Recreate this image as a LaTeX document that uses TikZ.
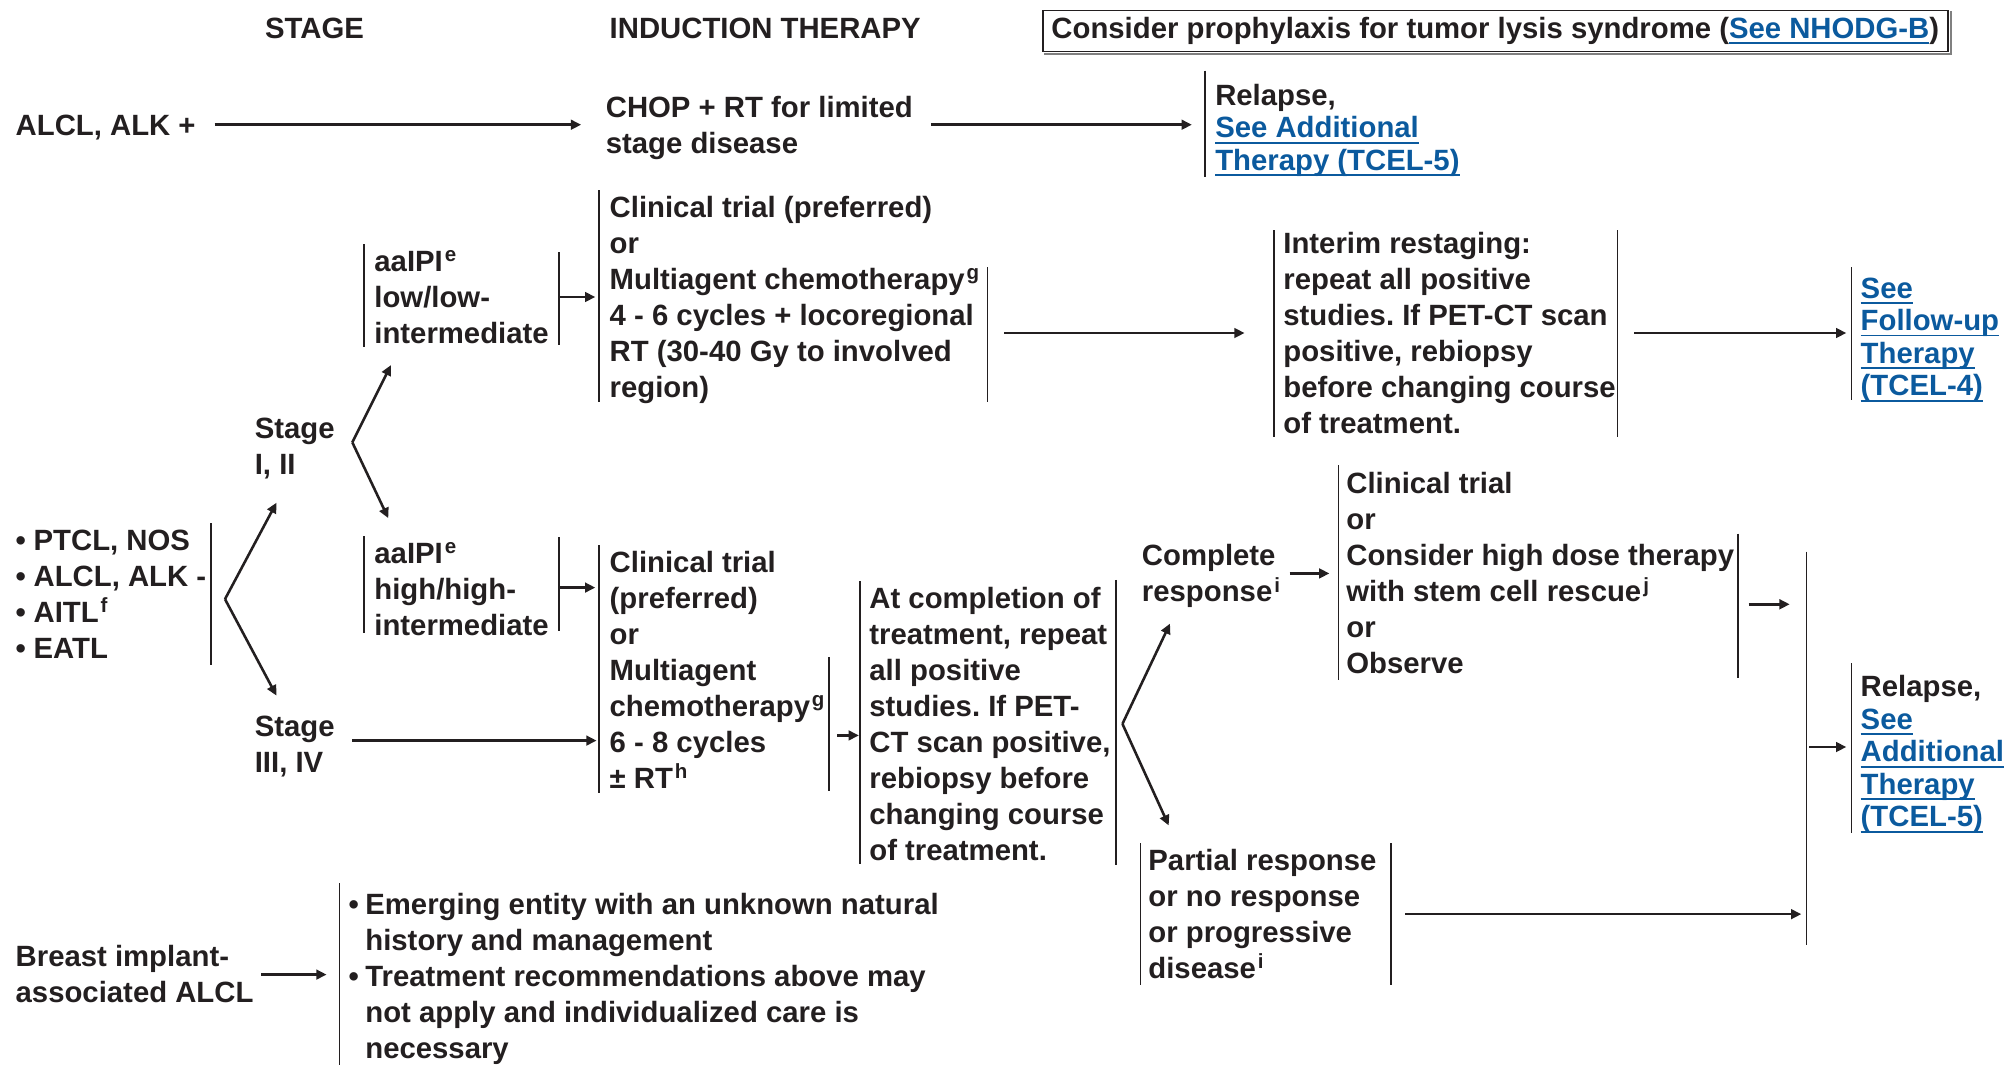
\documentclass[tikz,border=0pt]{standalone}
\usepackage{fontspec}
\setmainfont{Liberation Sans}
\usetikzlibrary{arrows.meta}
\definecolor{ink}{HTML}{231F20}
\definecolor{linkblue}{HTML}{0B5A9E}
\frenchspacing
% stacked lines, baseline of the block = baseline of its first line
\newcommand\rows[1]{\begin{tabular}[t]{@{}l@{}}#1\end{tabular}}
\newcommand\bulrows[1]{\begin{tabular}[t]{@{}l@{\hspace{5pt}}l@{}}#1\end{tabular}}
% underlined blue cross-reference
\newcommand\lnk[1]{{\color{linkblue}\setbox0\hbox{#1}\rlap{\rule[-4.4pt]{\wd0}{1.3pt}}\box0}}
\newcommand\fn[1]{\textsuperscript{\hspace{1.5pt}#1}}
\newcommand\bul{\textbullet\hspace{6pt}}
\begin{document}
\begin{tikzpicture}[x=1pt, y=-1pt,
  txt/.style={font=\fontsize{22.8}{28}\selectfont\bfseries, text=ink, inner sep=0pt, anchor=base west},
  lnkblk/.style={txt, font=\fontsize{22.8}{25.3}\selectfont\bfseries},
  bar/.style={draw=ink, line width=1.4pt},
  arr/.style={draw=ink, line width=2pt, -{Triangle[length=8pt,width=7.5pt]}},
]
\useasboundingbox (0,0) rectangle (1568,828);

% column headings
\node[txt] (hstage) at (206,30) {STAGE};
\node[txt] (hind) at (474,30) {INDUCTION THERAPY};
\node[txt, anchor=center, draw=ink, line width=1.2pt, minimum width=704pt, minimum height=32pt] (tls) at (1163,24)
  {Consider prophylaxis for tumor lysis syndrome (\lnk{See NHODG-B})};
\draw[gray, line width=1.6pt] ([xshift=1.6pt,yshift=-1.4pt]tls.south west) -- ([xshift=1.6pt,yshift=-1.4pt]tls.south east)
  -- ([xshift=1.6pt,yshift=-1.4pt]tls.north east);

% ALCL, ALK+ row
\node[txt] (alclp) at (12,105) {ALCL, ALK +};
\node[txt] (chop) at (471,91) {\rows{CHOP + RT for limited\\stage disease}};
\node[lnkblk] (rel1) at (945,82) {\rows{Relapse,\\\lnk{See Additional}\\\lnk{Therapy (TCEL-5)}}};
\draw[bar] (937,55) -- (937,138);
\coordinate (alclpR) at (167,97);  \coordinate (chopL) at (452,97);
\coordinate (chopR) at (724,97);   \coordinate (rel1L) at (927,97);
\draw[arr] (alclpR) -- (chopL);
\draw[arr] (chopR) -- (rel1L);

% PTCL group
\node[txt] (ptcl) at (12,428) {\rows{\bul PTCL, NOS\\\bul ALCL, ALK -\\\bul AITL\fn{f}\\\bul EATL}};
\draw[bar] (164,407) -- (164,517);
\node[txt] (st12) at (198,341) {\rows{Stage\\I, II}};
\node[txt] (st34) at (198,573) {\rows{Stage\\III, IV}};
\coordinate (split1) at (175,466);
\coordinate (st12in) at (215,391);
\coordinate (st34in) at (215,541);
\draw[arr] (split1) -- (st12in);
\draw[arr] (split1) -- (st34in);

% stage I, II
\coordinate (split2) at (274,344);
\coordinate (lowin) at (304,284);
\coordinate (highin) at (302,403);
\draw[arr] (split2) -- (lowin);
\draw[arr] (split2) -- (highin);

\node[txt] (low) at (291,211) {\rows{aaIPI\fn{e}\\low/low-\\intermediate}};
\draw[bar] (283,190) -- (283,270);
\draw[bar] (435,196) -- (435,268);
\node[txt] (ctlow) at (474,169) {\rows{Clinical trial (preferred)\\or\\Multiagent chemotherapy\fn{g}\\4 - 6 cycles + locoregional\\RT (30-40 Gy to involved\\region)}};
\draw[bar] (466,148) -- (466,313);
\draw[bar] (768,208) -- (768,313);
\coordinate (lowR) at (435,231); \coordinate (ctlowL) at (463,231);
\draw[arr] (lowR) -- (ctlowL);

\node[txt] (interim) at (998,197) {\rows{Interim restaging:\\repeat all positive\\studies. If PET-CT scan\\positive, rebiopsy\\before changing course\\of treatment.}};
\draw[bar] (991,179) -- (991,340);
\draw[bar] (1258,179) -- (1258,340);
\coordinate (ctlowR) at (781,259); \coordinate (interimL) at (968,259);
\draw[arr] (ctlowR) -- (interimL);

\node[lnkblk] (fup) at (1447,232) {\rows{\lnk{See}\\\lnk{Follow-up}\\\lnk{Therapy}\\\lnk{(TCEL-4)}}};
\draw[bar] (1440,208) -- (1440,311);
\coordinate (interimR) at (1271,259); \coordinate (fupL) at (1436,259);
\draw[arr] (interimR) -- (fupL);

% high risk / advanced stage
\node[txt] (high) at (291,438) {\rows{aaIPI\fn{e}\\high/high-\\intermediate}};
\draw[bar] (283,417) -- (283,492);
\draw[bar] (435,418) -- (435,491);
\node[txt] (cthigh) at (474,445) {\rows{Clinical trial\\(preferred)\\or\\Multiagent\\chemotherapy\fn{g}\\6 - 8 cycles\\± RT\fn{h}}};
\draw[bar] (466,424) -- (466,617);
\draw[bar] (645,511) -- (645,615);
\coordinate (highR) at (435,457); \coordinate (cthighL) at (463,457);
\draw[arr] (highR) -- (cthighL);
\coordinate (st34R) at (274,576); \coordinate (cthighL2) at (464,576);
\draw[arr] (st34R) -- (cthighL2);

\node[txt] (atcomp) at (676,473) {\rows{At completion of\\treatment, repeat\\all positive\\studies. If PET-\\CT scan positive,\\rebiopsy before\\changing course\\of treatment.}};
\draw[bar] (669,452) -- (669,672);
\draw[bar] (868,451) -- (868,673);
\coordinate (cthighR) at (651,572); \coordinate (atcompL) at (668,572);
\draw[arr] (cthighR) -- (atcompL);

% response
\coordinate (split3) at (873,563);
\coordinate (crin) at (910,485);
\coordinate (prin) at (909,642);
\draw[arr] (split3) -- (crin);
\draw[arr] (split3) -- (prin);

\node[txt] (cr) at (888,440) {\rows{Complete\\response\fn{i}}};
\node[txt] (consol) at (1047,384) {\rows{Clinical trial\\or\\Consider high dose therapy\\with stem cell rescue\fn{j}\\or\\Observe}};
\draw[bar] (1041,362) -- (1041,529);
\draw[bar] (1352,415) -- (1352,527);
\coordinate (crR) at (1003,446); \coordinate (consolL) at (1034,446);
\draw[arr] (crR) -- (consolL);

\node[txt] (pr) at (893,677) {\rows{Partial response\\or no response\\or progressive\\disease\fn{i}}};
\draw[bar] (887,656) -- (887,766);
\draw[bar] (1082,656) -- (1082,766);

% relapse collector
\draw[bar] (1405,429) -- (1405,735);
\coordinate (consolR) at (1360,470); \coordinate (collA) at (1392,470);
\draw[arr] (consolR) -- (collA);
\coordinate (prR) at (1093,711); \coordinate (collB) at (1401,711);
\draw[arr] (prR) -- (collB);

\node[lnkblk] (rel2) at (1447,542) {\rows{Relapse,\\\lnk{See}\\\lnk{Additional}\\\lnk{Therapy}\\\lnk{(TCEL-5)}}};
\draw[bar] (1440,516) -- (1440,648);
\coordinate (collR) at (1407,581); \coordinate (rel2L) at (1436,581);
\draw[arr] (collR) -- (rel2L);

% breast implant-associated ALCL
\node[txt] (bia) at (12,752) {\rows{Breast implant-\\associated ALCL}};
\node[txt] (emerg) at (271,711) {\bulrows{\textbullet & Emerging entity with an unknown natural\\ & history and management\\\textbullet & Treatment recommendations above may\\ & not apply and individualized care is\\ & necessary}};
\draw[bar] (264,687) -- (264,828);
\coordinate (biaR) at (203,758); \coordinate (emergL) at (254,758);
\draw[arr] (biaR) -- (emergL);
\end{tikzpicture}
\end{document}
